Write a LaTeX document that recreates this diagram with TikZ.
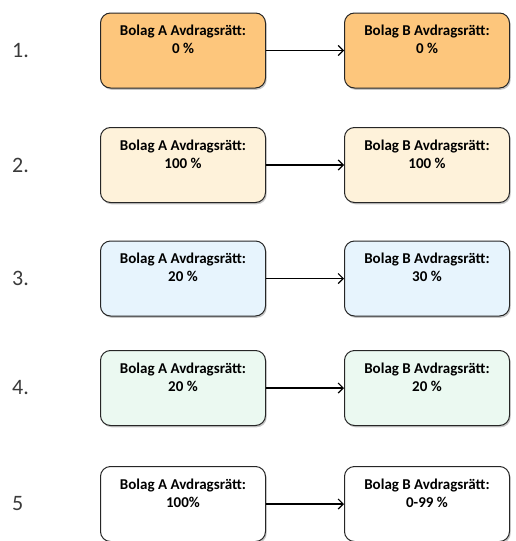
\documentclass[tikz,border=0pt]{standalone}
\usepackage{fontspec}
\setmainfont{Carlito}
\usetikzlibrary{shadows,arrows.meta}
\definecolor{c1}{HTML}{FDC67C}
\definecolor{c2}{HTML}{FEF2DA}
\definecolor{c3}{HTML}{E7F4FD}
\definecolor{c4}{HTML}{EBF9F1}
\definecolor{c5}{HTML}{FFFFFF}
\definecolor{lbl}{HTML}{3A3A3A}
\tikzset{
  box/.style={draw=black!85, line width=1pt, rounded corners=10pt,
    minimum width=165pt, minimum height=75pt, inner sep=0pt,
    drop shadow={shadow xshift=1.2pt, shadow yshift=-1.8pt, opacity=0.45}},
  boxtxt/.style={anchor=north, align=center, inner sep=0pt,
    font=\bfseries\fontsize{15}{18}\selectfont},
  rowlbl/.style={font=\fontsize{22}{26}\selectfont, text=lbl},
  conn/.style={line width=1.2pt, -{Straight Barb[length=5pt,width=10pt]}}
}
\begin{document}
\begin{tikzpicture}[x=1pt,y=-1pt]
\useasboundingbox (0,0) rectangle (515,541);
\foreach \i/\y/\c/\ta/\tb/\lab in {
  1/50.5/c1/0 \%/0 \%/1.,
  2/165/c2/100 \%/100 \%/2.,
  3/278.5/c3/20 \%/30 \%/3.,
  4/388/c4/20 \%/20 \%/4.,
  5/504/c5/100\%/0-99 \%/5}{
  \node[box, fill=\c] (a\i) at (183,\y) {};
  \node[box, fill=\c] (b\i) at (427,\y) {};
  \node[boxtxt] (ta\i) at ([yshift=-12.5pt]a\i.north) {Bolag A Avdragsrätt:\\\ta};
  \node[boxtxt] (tb\i) at ([yshift=-12.5pt]b\i.north) {Bolag B Avdragsrätt:\\\tb};
  \node[rowlbl, anchor=west, inner sep=0pt] (l\i) at (12,\y) {\lab};
  \draw[conn] (a\i.east) -- (b\i.west);
}
\end{tikzpicture}
\end{document}
